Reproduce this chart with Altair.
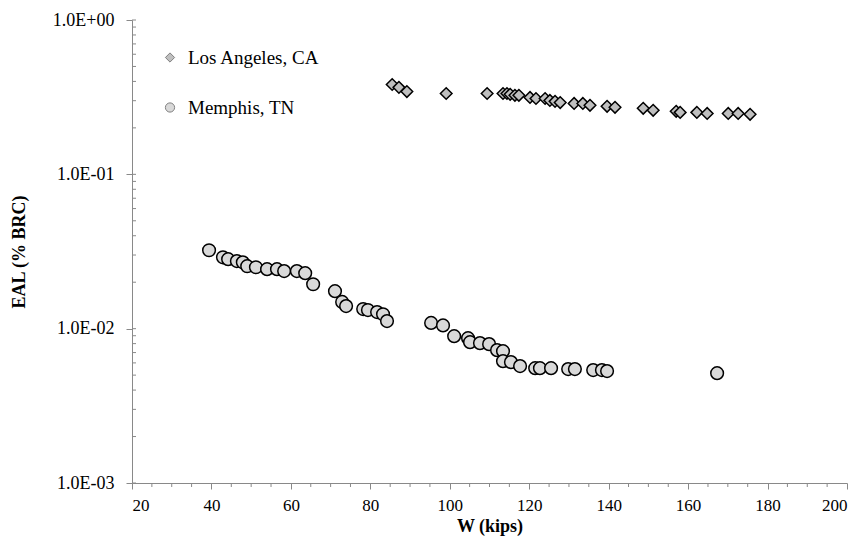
import altair as alt
import pandas as pd

sites = ["Los Angeles, CA", "Memphis, TN"]

la_w = [85.5, 87.2, 89.2, 99.1, 109.4, 113.4, 114.4, 115.2, 116.4, 117.4, 120.2, 121.7,
        124.0, 125.2, 126.5, 127.8, 131.3, 133.5, 135.3, 139.6, 141.6, 148.7, 151.2,
        157.0, 158.0, 162.2, 164.8, 170.1, 172.6, 175.6]
la_eal = [0.382, 0.366, 0.344, 0.334, 0.334, 0.334, 0.334, 0.330, 0.325, 0.325, 0.315, 0.310,
          0.310, 0.301, 0.297, 0.292, 0.288, 0.288, 0.280, 0.276, 0.272, 0.268, 0.260,
          0.256, 0.252, 0.252, 0.248, 0.248, 0.248, 0.245]

me_w = [39.4, 42.9, 44.2, 46.4, 47.9, 49.0, 51.2, 54.0, 56.5, 58.3, 61.5, 63.6, 65.6,
        71.1, 72.9, 73.9, 78.2, 79.4, 81.7, 83.2, 84.2, 95.3, 98.3, 101.1, 104.6, 105.1,
        107.6, 109.9, 111.9, 113.4, 113.4, 115.4, 117.7, 121.5, 122.7, 125.5, 129.8,
        131.5, 136.1, 138.3, 139.6, 167.3]
me_eal = [0.0322, 0.0290, 0.0282, 0.0274, 0.0269, 0.0254, 0.0250, 0.0243, 0.0243, 0.0236,
          0.0236, 0.0229, 0.0194, 0.0175, 0.0149, 0.0140, 0.0134, 0.0132, 0.0128, 0.0124,
          0.0112, 0.0109, 0.0105, 0.00894, 0.00868, 0.00818, 0.00806, 0.00794, 0.00726,
          0.00715, 0.00616, 0.00607, 0.00572, 0.00555, 0.00555, 0.00555, 0.00547,
          0.00547, 0.00539, 0.00539, 0.00531, 0.00515]

x_major = [20, 40, 60, 80, 100, 120, 140, 160, 180, 200]
x_minor = [v for v in range(25, 200, 5) if v % 20 != 0]
y_major = [0.001, 0.01, 0.1, 1.0]
y_inner = [k * 10.0 ** e for e in (-3, -2, -1) for k in range(1, 10)] + [1.0]

df = pd.DataFrame({
    "W": la_w + me_w,
    "EAL": la_eal + me_eal,
    "site": [sites[0]] * len(la_w) + [sites[1]] * len(me_w),
})
df["grp"] = df["site"]
leg_df = pd.DataFrame({"site": sites, "row": [0, 1]})

W, H = 715, 463
AX = "#898989"
FONT = "Liberation Serif"

xs = alt.Scale(domain=[20, 200], nice=False)
ys = alt.Scale(type="log", domain=[0.001, 1], nice=False)
shape_scale = alt.Scale(domain=sites, range=["diamond", "circle"])
fill_scale = alt.Scale(domain=sites, range=["#bfbfbf", "#d9d9d9"])
leg_y = alt.Y("row:O", scale=alt.Scale(type="point", domain=[0, 1], range=[37.5, 87.5], padding=0), axis=None)

points = alt.Chart(df).mark_point(filled=True, stroke="black", strokeWidth=1.5, opacity=1).encode(
    x=alt.X("W:Q", scale=xs, axis=alt.Axis(values=x_major, title="W (kips)", grid=False,
                                            tickSize=6, labelPadding=8, titlePadding=4)),
    y=alt.Y("EAL:Q", scale=ys, axis=alt.Axis(values=y_major, title="EAL (% BRC)", grid=False,
                                              tickSize=6, labelPadding=12, titlePadding=24,
                                              labelExpr="datum.value >= 1 ? '1.0E+00' : '1.0E-0' + format(-log(datum.value)/LN10, '.0f')")),
    shape=alt.Shape("site:N", scale=shape_scale, legend=None),
    fill=alt.Fill("site:N", scale=fill_scale, legend=None),
    size=alt.Size("grp:N", scale=alt.Scale(domain=sites, range=[135, 160]), legend=None),
)

xticks = alt.Chart(pd.DataFrame({"W": x_minor})).mark_rule(color=AX, strokeWidth=1).encode(
    x=alt.X("W:Q", scale=xs), y=alt.value(H), y2=alt.value(H + 4))

yticks = alt.Chart(pd.DataFrame({"EAL": y_inner})).mark_rule(color=AX, strokeWidth=1).encode(
    y=alt.Y("EAL:Q", scale=ys), x=alt.value(0), x2=alt.value(4))

main = alt.layer(xticks, yticks, points)

leg_pts = alt.Chart(leg_df).mark_point(filled=True, stroke="#808080", strokeWidth=1, size=85, opacity=1).encode(
    x=alt.value(38), y=leg_y,
    shape=alt.Shape("site:N", scale=shape_scale, legend=None),
    fill=alt.Fill("site:N", scale=fill_scale, legend=None),
)
leg_txt = alt.Chart(leg_df).mark_text(align="left", baseline="middle", font=FONT, fontSize=19, color="black").encode(
    x=alt.value(56), y=leg_y, text="site:N")
legend = alt.layer(leg_pts, leg_txt)

chart = alt.layer(main, legend).resolve_scale(y="independent").properties(
    width=W, height=H,
    autosize=alt.AutoSizeParams(type="none"),
    padding={"left": 132, "top": 20, "right": 17, "bottom": 61},
).configure_view(stroke=None).configure_axis(
    domainColor=AX, tickColor=AX, labelFont=FONT, titleFont=FONT,
    labelColor="black", titleColor="black", titleFontWeight="bold",
    titleFontSize=18, labelFontSize=17,
).configure_axisY(labelFontSize=18)

chart.save("out.html", embed_options={"renderer": "svg", "actions": False})
